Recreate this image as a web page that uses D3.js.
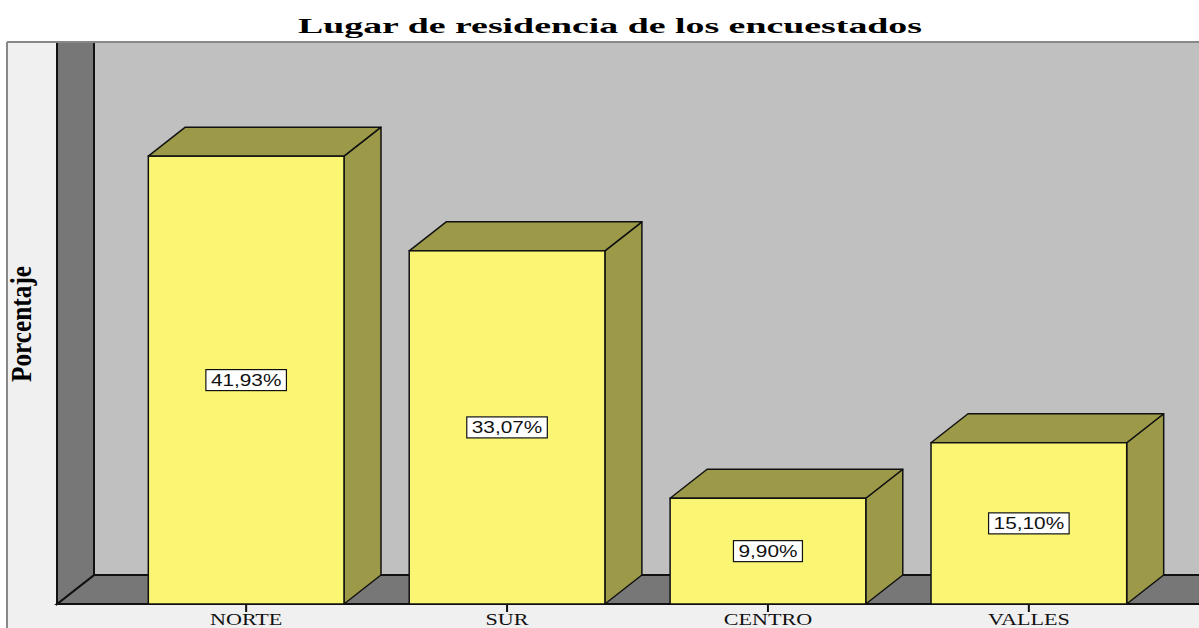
<!DOCTYPE html>
<html>
<head>
<meta charset="utf-8">
<script src="https://cdn.jsdelivr.net/npm/d3@7"></script>
<style>
  body { margin: 0; background: #fff; }
  svg { display: block; }
</style>
</head>
<body>
<script>
let width = 1199,
    height = 628;

// data
let categories = ["NORTE", "SUR", "CENTRO", "VALLES"];
let percentages = [41.93, 33.07, 9.90, 15.10];
let valueLabels = ["41,93%", "33,07%", "9,90%", "15,10%"];
let title = "Lugar de residencia de los encuestados";
let yTitle = "Porcentaje";

let dataset = categories.map(function(c, i) {
  return {cat: c, value: percentages[i], label: valueLabels[i]};
});

// 3d depth of the box
let dx = 37, dy = 29;
let frameLeft = 7, frameTop = 42;
let wallX = 57;

let svg = d3.select("body")
            .append("svg")
            .attr("width", width)
            .attr("height", height);

let xScale = d3.scaleBand()
               .domain(categories)
               .range([wallX, 1218])
               .paddingInner(0.25)
               .paddingOuter(0.35);

let yScale = d3.scaleLinear()
               .domain([0, 50])
               .range([604, 70]);

let y0 = yScale(0);

// light outer panel
svg.append("rect")
   .attr("x", frameLeft).attr("y", frameTop)
   .attr("width", width - frameLeft).attr("height", height - frameTop)
   .attr("fill", "#f0f0f0");

// back wall
svg.append("rect")
   .attr("x", wallX + dx).attr("y", frameTop)
   .attr("width", width - wallX - dx).attr("height", y0 - dy - frameTop)
   .attr("fill", "#c0c0c0");

// floor
svg.append("path")
   .attr("d", "M" + wallX + "," + y0 + "L" + (wallX + dx) + "," + (y0 - dy) +
              "L" + (width + 5) + "," + (y0 - dy) + "L" + (width + 5) + "," + y0 + "Z")
   .attr("fill", "#777777")
   .attr("stroke", "#111")
   .attr("stroke-width", 2);

// left wall (no top edge, it runs under the frame)
svg.append("path")
   .attr("d", "M" + wallX + "," + frameTop + "L" + (wallX + dx) + "," + frameTop +
              "L" + (wallX + dx) + "," + (y0 - dy) + "L" + wallX + "," + y0 + "Z")
   .attr("fill", "#777777");
svg.append("path")
   .attr("d", "M" + (wallX + dx) + "," + frameTop + "L" + (wallX + dx) + "," + (y0 - dy) +
              "L" + wallX + "," + y0 + "L" + wallX + "," + frameTop)
   .attr("fill", "none")
   .attr("stroke", "#111")
   .attr("stroke-width", 2);

// frame lines
svg.append("line")
   .attr("x1", frameLeft).attr("x2", frameLeft)
   .attr("y1", frameTop).attr("y2", height)
   .attr("stroke", "#888").attr("stroke-width", 2);
svg.append("line")
   .attr("x1", frameLeft).attr("x2", width)
   .attr("y1", frameTop).attr("y2", frameTop)
   .attr("stroke", "#888").attr("stroke-width", 2);

// bars
let bw = xScale.bandwidth();
let bars = svg.selectAll("g.bar")
              .data(dataset)
              .enter()
              .append("g")
              .attr("class", "bar");

bars.append("path")
    .attr("d", function(d) {
      let x = xScale(d.cat), y = yScale(d.value);
      return "M" + (x + bw) + "," + y + "L" + (x + bw + dx) + "," + (y - dy) +
             "L" + (x + bw + dx) + "," + (y0 - dy) + "L" + (x + bw) + "," + y0 + "Z";
    })
    .attr("fill", "#9c9a48")
    .attr("stroke", "#111")
    .attr("stroke-width", 1.5)
    .attr("stroke-linejoin", "round");

bars.append("path")
    .attr("d", function(d) {
      let x = xScale(d.cat), y = yScale(d.value);
      return "M" + x + "," + y + "L" + (x + dx) + "," + (y - dy) +
             "L" + (x + bw + dx) + "," + (y - dy) + "L" + (x + bw) + "," + y + "Z";
    })
    .attr("fill", "#9c9a48")
    .attr("stroke", "#111")
    .attr("stroke-width", 1.5)
    .attr("stroke-linejoin", "round");

bars.append("rect")
    .attr("x", function(d) { return xScale(d.cat); })
    .attr("y", function(d) { return yScale(d.value); })
    .attr("width", bw)
    .attr("height", function(d) { return y0 - yScale(d.value); })
    .attr("fill", "#faf673")
    .attr("stroke", "#111")
    .attr("stroke-width", 1.5);

// value labels in white boxes
let labels = bars.append("g")
    .attr("transform", function(d) {
      return "translate(" + (xScale(d.cat) + bw / 2) + "," + (yScale(d.value) + y0) / 2 + ")";
    });

labels.append("rect")
    .attr("fill", "#fff")
    .attr("stroke", "#111")
    .attr("stroke-width", 1.2);

let labelTexts = labels.append("text")
    .attr("text-anchor", "middle")
    .attr("dy", "0.36em")
    .style("font-family", "'Liberation Sans', Arial, sans-serif")
    .style("font-size", "16px")
    .attr("fill", "#111")
    .text(function(d) { return d.label; });

labelTexts.each(function() {
  let w = this.getComputedTextLength() * 1.3;
  d3.select(this).attr("textLength", w).attr("lengthAdjust", "spacingAndGlyphs");
  d3.select(this.parentNode).select("rect")
    .attr("x", -w / 2 - 5).attr("y", -10.5)
    .attr("width", w + 10).attr("height", 21);
});

// x axis
let xAxis = d3.axisBottom(xScale).tickSize(8).tickSizeOuter(0);
let gx = svg.append("g")
   .attr("transform", "translate(0," + y0 + ")")
   .call(xAxis);
gx.select(".domain").remove();
gx.selectAll(".tick line").attr("stroke", "#111").attr("stroke-width", 2);
gx.selectAll(".tick text")
  .attr("fill", "#111")
  .attr("y", 10)
  .style("font-family", "'Liberation Serif', 'Times New Roman', serif")
  .style("font-size", "16px")
  .each(function() {
    let w = this.getComputedTextLength() * 1.38;
    d3.select(this).attr("textLength", w).attr("lengthAdjust", "spacingAndGlyphs");
  });

// title
svg.append("text")
   .attr("x", 610)
   .attr("y", 33)
   .attr("text-anchor", "middle")
   .style("font-family", "'Liberation Serif', 'Times New Roman', serif")
   .style("font-weight", "bold")
   .style("font-size", "22px")
   .attr("fill", "#000")
   .attr("textLength", 624)
   .attr("lengthAdjust", "spacingAndGlyphs")
   .text(title);

// y axis title
svg.append("text")
   .attr("transform", "translate(31,324) scale(1.25,1) rotate(-90)")
   .attr("text-anchor", "middle")
   .style("font-family", "'Liberation Serif', 'Times New Roman', serif")
   .style("font-weight", "bold")
   .style("font-size", "24px")
   .attr("fill", "#000")
   .attr("textLength", 116)
   .attr("lengthAdjust", "spacingAndGlyphs")
   .text(yTitle);
</script>
</body>
</html>
